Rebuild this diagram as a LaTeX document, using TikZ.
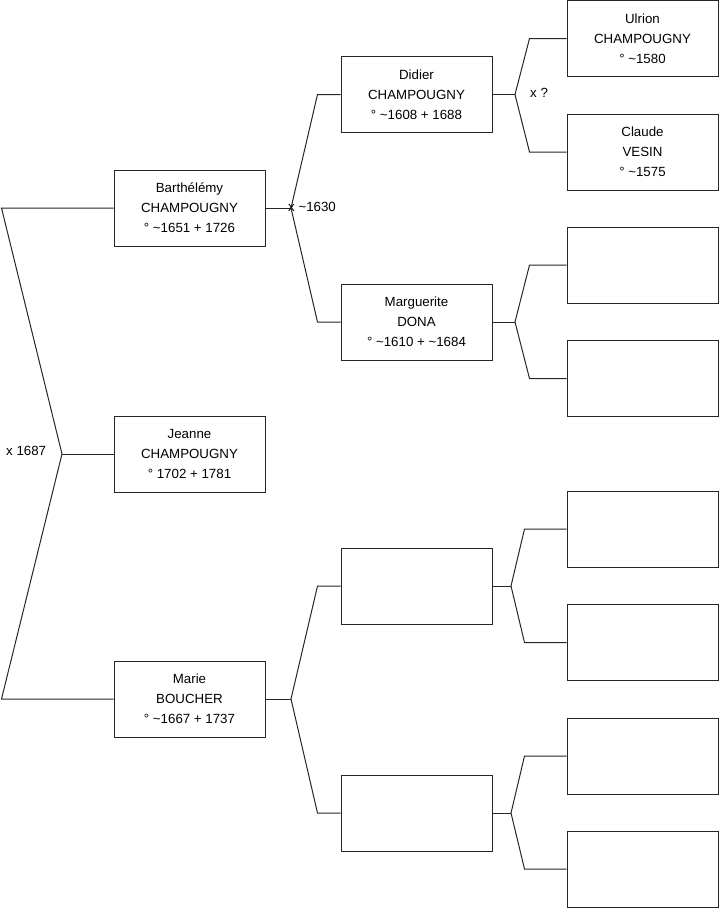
\documentclass[tikz,border=0pt]{standalone}
\usepackage{fontspec}
\setmainfont{Liberation Sans}
\newcommand{\abt}{\textasciitilde}

\begin{document}
\begin{tikzpicture}[x=1pt,y=-1pt,
  box/.style={draw=black!85,line width=1pt,minimum width=151pt,minimum height=76pt,inner sep=0pt,align=center,font=\fontsize{13.3}{20}\selectfont},
  link/.style={draw=black!85,line width=1pt},
  note/.style={anchor=west,inner sep=0pt,font=\fontsize{13.3}{16}\selectfont}
]
\useasboundingbox (0,0) rectangle (719,908);

% child and parents
\node[box] (jeanne) at (189.5,454) {Jeanne\\CHAMPOUGNY\\° 1702 + 1781};
\node[box] (barth) at (189.5,208) {Barthélémy\\CHAMPOUGNY\\° \abt1651 + 1726};
\node[box] (marie) at (189.5,699) {Marie\\BOUCHER\\° \abt1667 + 1737};

% grandparents
\node[box] (didier) at (416.5,94.5) {Didier\\CHAMPOUGNY\\° \abt1608 + 1688};
\node[box] (dona) at (416.5,322) {Marguerite\\DONA\\° \abt1610 + \abt1684};
\node[box] (gp3) at (416.5,586) {};
\node[box] (gp4) at (416.5,813) {};

% great-grandparents
\node[box] (ulrion) at (642.5,38.5) {Ulrion\\CHAMPOUGNY\\° \abt1580};
\node[box] (vesin) at (642.5,152) {Claude\\VESIN\\° \abt1575};
\node[box] (ggp3) at (642.5,265) {};
\node[box] (ggp4) at (642.5,378.5) {};
\node[box] (ggp5) at (642.5,529) {};
\node[box] (ggp6) at (642.5,642.5) {};
\node[box] (ggp7) at (642.5,756) {};
\node[box] (ggp8) at (642.5,869) {};

% forks
\coordinate (f0) at (62,454);
\coordinate (f1) at (291,208);
\coordinate (f2) at (515,94.5);
\coordinate (f3) at (515,322);
\coordinate (f4) at (291,699);
\coordinate (f5) at (511,586);
\coordinate (f6) at (511,813);

\draw[link] (jeanne.west) -- (f0);
\draw[link] (barth.west) -- ++(-112,0) -- (f0) -- ([xshift=-112pt]marie.west) -- (marie.west);

\draw[link] (barth.east) -- (f1);
\draw[link] (didier.west) -- ++(-23,0) -- (f1) -- ([xshift=-23pt]dona.west) -- (dona.west);
\draw[link] (marie.east) -- (f4);
\draw[link] (gp3.west) -- ++(-23,0) -- (f4) -- ([xshift=-23pt]gp4.west) -- (gp4.west);

\draw[link] (didier.east) -- (f2);
\draw[link] (ulrion.west) -- ++(-37,0) -- (f2) -- ([xshift=-37pt]vesin.west) -- (vesin.west);
\draw[link] (dona.east) -- (f3);
\draw[link] (ggp3.west) -- ++(-37,0) -- (f3) -- ([xshift=-37pt]ggp4.west) -- (ggp4.west);
\draw[link] (gp3.east) -- (f5);
\draw[link] (ggp5.west) -- ++(-42,0) -- (f5) -- ([xshift=-42pt]ggp6.west) -- (ggp6.west);
\draw[link] (gp4.east) -- (f6);
\draw[link] (ggp7.west) -- ++(-42,0) -- (f6) -- ([xshift=-42pt]ggp8.west) -- (ggp8.west);

% marriages
\node[note] (m0) at (6,451) {x 1687};
\node[note] (m1) at (288,207) {x \abt1630};
\node[note] (m2) at (530,93) {x ?};
\end{tikzpicture}
\end{document}
